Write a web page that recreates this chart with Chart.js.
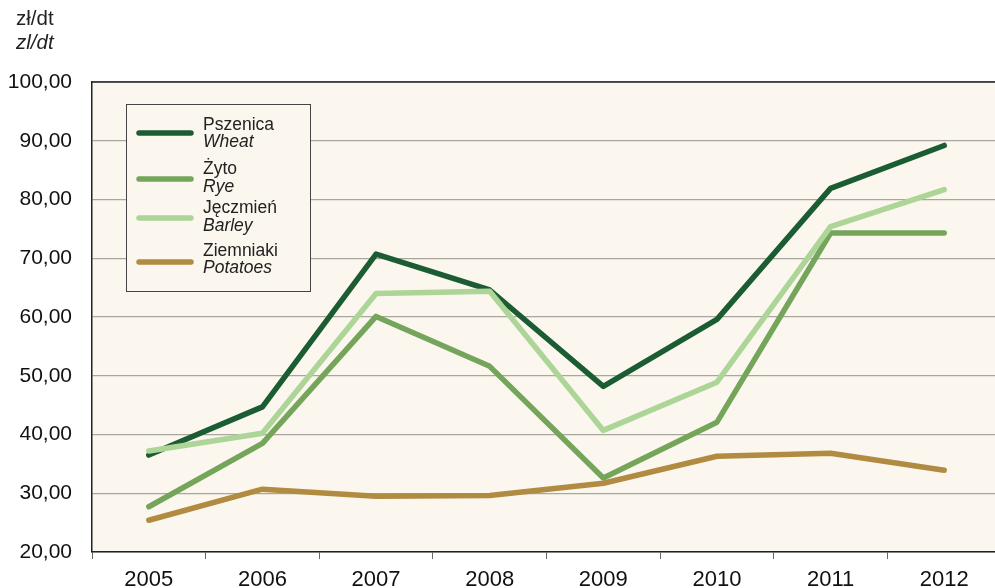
<!DOCTYPE html>
<html>
<head>
<meta charset="utf-8">
<script src="https://cdn.jsdelivr.net/npm/chart.js@4.4.1/dist/chart.umd.min.js"></script>
<style>
    html, body { margin: 0; padding: 0; background: #fff; overflow: hidden; }
    #wrap { width: 1005px; height: 588px; }
</style>
</head>
<body>
<div id="wrap"><canvas id="priceChart" width="1005" height="588"></canvas></div>
<script>
const years = ['2005', '2006', '2007', '2008', '2009', '2010', '2011', '2012'];
const wheat = [36.5, 44.7, 70.7, 64.6, 48.2, 59.6, 81.9, 89.2];
const rye = [27.7, 38.5, 60.1, 51.6, 32.6, 42.1, 74.3, 74.3];
const barley = [37.2, 40.2, 64.0, 64.4, 40.7, 48.9, 75.4, 81.7];
const potatoes = [25.4, 30.7, 29.5, 29.6, 31.7, 36.3, 36.8, 33.9];

const seriesNames = [['Pszenica', 'Wheat'], ['Żyto', 'Rye'], ['Jęczmień', 'Barley'], ['Ziemniaki', 'Potatoes']];
const seriesColors = ['#1b5c33', '#74a55b', '#acd597', '#b08b41'];

const fontName = '"Liberation Sans", Arial, sans-serif';

// Background of the plot area + unit label at top left
const decorPlugin = {
    id: 'decor',
    beforeDraw(chart) {
        const ctx = chart.ctx;
        const a = chart.chartArea;
        ctx.save();
        ctx.fillStyle = '#fbf7ee';
        ctx.fillRect(a.left, a.top, a.right - a.left, a.bottom - a.top);
        ctx.fillStyle = '#222';
        ctx.textBaseline = 'middle';
        ctx.font = '20.5px ' + fontName;
        ctx.fillText('zł/dt', 16, 19);
        ctx.font = 'italic 20.5px ' + fontName;
        ctx.fillText('zl/dt', 16, 43);
        ctx.restore();
    },
    afterDraw(chart) {
        // top border of the plot
        const ctx = chart.ctx;
        const a = chart.chartArea;
        ctx.save();
        ctx.strokeStyle = '#222';
        ctx.lineWidth = 1.5;
        ctx.beginPath();
        ctx.moveTo(a.left, a.top);
        ctx.lineTo(a.right, a.top);
        ctx.stroke();
        ctx.restore();
    }
};

// Legend box with two-line labels (Polish / English italic)
const legendPlugin = {
    id: 'boxLegend',
    afterDatasetsDraw(chart) {
        const ctx = chart.ctx;
        const a = chart.chartArea;
        const x = a.left + 34, y = a.top + 22, w = 184, h = 187;
        ctx.save();
        ctx.fillStyle = '#fbf7ee';
        ctx.fillRect(x, y, w, h);
        ctx.strokeStyle = '#444';
        ctx.lineWidth = 1;
        ctx.strokeRect(x + 0.5, y + 0.5, w, h);

        const lineY = [133, 179, 218, 262];
        const textY = [[125, 142], [169, 187], [208, 226], [251, 268]];
        chart.data.datasets.forEach((ds, i) => {
            ctx.strokeStyle = ds.borderColor;
            ctx.lineWidth = 5.5;
            ctx.lineCap = 'round';
            ctx.beginPath();
            ctx.moveTo(139, lineY[i]);
            ctx.lineTo(191, lineY[i]);
            ctx.stroke();

            ctx.fillStyle = '#222';
            ctx.textBaseline = 'middle';
            ctx.font = '17.5px ' + fontName;
            ctx.fillText(seriesNames[i][0], 203, textY[i][0]);
            ctx.font = 'italic 17.5px ' + fontName;
            ctx.fillText(seriesNames[i][1], 203, textY[i][1]);
        });
        ctx.restore();
    }
};

function makeSet(idx, values, order) {
    return {
        label: seriesNames[idx][0],
        data: values,
        borderColor: seriesColors[idx],
        backgroundColor: seriesColors[idx],
        borderWidth: 5.5,
        borderCapStyle: 'round',
        borderJoinStyle: 'round',
        pointRadius: 0,
        tension: 0,
        order: order
    };
}

const ctx = document.getElementById('priceChart').getContext('2d');
const mainChart = new Chart(ctx, {
    type: 'line',
    data: {
        labels: years,
        datasets: [
            makeSet(0, wheat, 4),
            makeSet(1, rye, 3),
            makeSet(2, barley, 2),
            makeSet(3, potatoes, 1)
        ]
    },
    options: {
        responsive: false,
        animation: false,
        layout: {
            padding: { top: 82, right: 4, left: 0, bottom: 0 }
        },
        plugins: {
            legend: { display: false },
            tooltip: { enabled: false }
        },
        scales: {
            x: {
                offset: true,
                afterFit(scale) { scale.height = 36; },
                grid: {
                    offset: true,
                    drawOnChartArea: false,
                    tickLength: 7,
                    color: '#666'
                },
                border: { color: '#222', width: 1.5 },
                ticks: {
                    color: '#111',
                    padding: 8,
                    font: { family: fontName, size: 22 }
                }
            },
            y: {
                min: 20,
                max: 100,
                afterFit(scale) { scale.width = 92; },
                grid: {
                    drawTicks: false,
                    color: '#a9a6a0',
                    lineWidth: 1.2
                },
                border: { color: '#222', width: 1.5 },
                ticks: {
                    stepSize: 10,
                    padding: 20,
                    color: '#111',
                    font: { family: fontName, size: 21 },
                    callback: v => v.toFixed(2).replace('.', ',')
                }
            }
        }
    },
    plugins: [decorPlugin, legendPlugin]
});
</script>
</body>
</html>
